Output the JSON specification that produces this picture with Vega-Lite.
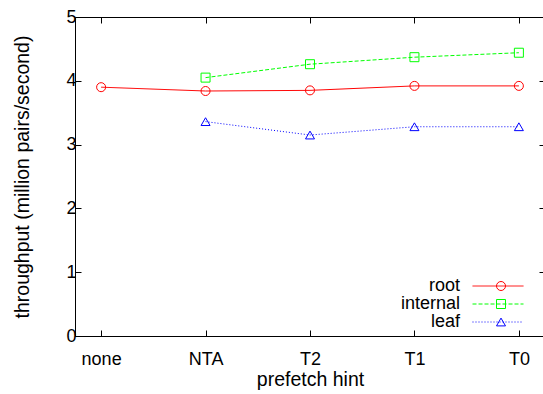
{
  "$schema": "https://vega.github.io/schema/vega-lite/v6.json",
  "autosize": "none",
  "width": 470,
  "height": 319,
  "padding": {"left": 75, "top": 17, "right": 0, "bottom": 58},
  "background": "white",
  "config": {
    "font": "Liberation Sans",
    "view": {"stroke": "black", "strokeWidth": 1},
    "axis": {
      "grid": false,
      "domainColor": "black",
      "tickColor": "black",
      "labelColor": "black",
      "titleColor": "black",
      "labelFont": "Liberation Sans",
      "titleFont": "Liberation Sans",
      "labelFontSize": 18,
      "titleFontSize": 19.5,
      "titleFontWeight": "normal"
    },
    "legend": {
      "labelFont": "Liberation Sans",
      "labelFontSize": 18,
      "labelColor": "black"
    }
  },
  "data": {
    "values": [
      {"hint": "none", "series": "root", "value": 3.90},
      {"hint": "NTA", "series": "root", "value": 3.84},
      {"hint": "T2", "series": "root", "value": 3.85},
      {"hint": "T1", "series": "root", "value": 3.92},
      {"hint": "T0", "series": "root", "value": 3.92},
      {"hint": "NTA", "series": "internal", "value": 4.05},
      {"hint": "T2", "series": "internal", "value": 4.26},
      {"hint": "T1", "series": "internal", "value": 4.37},
      {"hint": "T0", "series": "internal", "value": 4.44},
      {"hint": "NTA", "series": "leaf", "value": 3.36},
      {"hint": "T2", "series": "leaf", "value": 3.15},
      {"hint": "T1", "series": "leaf", "value": 3.28},
      {"hint": "T0", "series": "leaf", "value": 3.28}
    ]
  },
  "resolve": {"scale": {"x": "independent", "y": "independent"}},
  "layer": [
    {
      "mark": {"type": "line", "strokeWidth": 1},
      "encoding": {
        "x": {
          "field": "hint", "type": "nominal",
          "scale": {"type": "point", "domain": ["none", "NTA", "T2", "T1", "T0"], "padding": 0.25},
          "axis": {"title": "prefetch hint", "labelAngle": 0, "tickSize": -6, "labelPadding": 20, "titlePadding": 2}
        },
        "y": {
          "field": "value", "type": "quantitative",
          "scale": {"domain": [0, 5], "nice": false},
          "axis": {"title": "throughput (million pairs/second)", "values": [0, 1, 2, 3, 4, 5], "tickSize": -6, "labelPadding": 5, "titlePadding": 33}
        },
        "color": {
          "field": "series", "type": "nominal",
          "sort": ["root", "internal", "leaf"],
          "scale": {"range": ["#ff0000", "#00ff00", "#0000ff"]},
          "legend": {
            "title": null, "orient": "none", "legendX": 369, "legendY": 260,
            "symbolType": "M-3.4,0H3.4", "symbolSize": 225, "symbolStrokeWidth": 1,
            "labelAlign": "right", "labelOffset": -47, "symbolOffset": 45, "rowPadding": 0,
            "encode": {
              "symbols": {
                "update": {
                  "strokeDash": {"signal": "datum.value === 'internal' ? [4, 2] : datum.value === 'leaf' ? [1, 2] : [1, 0]"}
                }
              }
            }
          }
        },
        "strokeDash": {
          "field": "series", "type": "nominal",
          "sort": ["root", "internal", "leaf"],
          "scale": {"range": [[1, 0], [4, 2], [1, 2]]},
          "legend": null
        }
      }
    },
    {
      "mark": {"type": "point", "filled": false, "strokeWidth": 1, "size": 81, "opacity": 1},
      "encoding": {
        "x": {
          "field": "hint", "type": "nominal",
          "scale": {"type": "point", "domain": ["none", "NTA", "T2", "T1", "T0"], "padding": 0.25},
          "axis": {"title": null, "labels": false, "domain": false, "tickSize": -6, "orient": "top"}
        },
        "y": {
          "field": "value", "type": "quantitative",
          "scale": {"domain": [0, 5], "nice": false},
          "axis": {"title": null, "labels": false, "domain": false, "values": [0, 1, 2, 3, 4, 5], "tickSize": -6, "orient": "right"}
        },
        "stroke": {
          "field": "series", "type": "nominal",
          "scale": {"domain": ["root", "internal", "leaf"], "range": ["#ff0000", "#00ff00", "#0000ff"]},
          "legend": {
            "title": null, "orient": "none", "legendX": 369, "legendY": 260,
            "symbolSize": 81, "symbolStrokeWidth": 1, "symbolFillColor": "transparent",
            "labelAlign": "right", "labelOffset": 0, "symbolOffset": 48, "rowPadding": 0, "labelExpr": "''"
          }
        },
        "shape": {
          "field": "series", "type": "nominal",
          "scale": {"domain": ["root", "internal", "leaf"], "range": ["circle", "square", "triangle-up"]}
        }
      }
    }
  ]
}
